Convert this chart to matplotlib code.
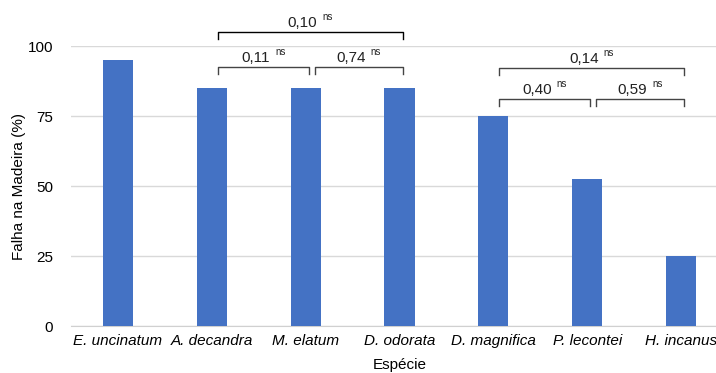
import matplotlib.pyplot as plt

plt.rcParams['font.family'] = ['Liberation Sans', 'DejaVu Sans']

# Data
especies = ["E. uncinatum", "A. decandra", "M. elatum", "D. odorata",
            "D. magnifica", "P. lecontei", "H. incanus"]
falha = [95, 85, 85, 85, 75, 52.5, 25]

# comparisons: (from, to, p-value label, bracket height)
pares = [(1, 3, "0,10", 105.0), (1, 2, "0,11", 92.5), (2, 3, "0,74", 92.5),
         (4, 6, "0,14", 92.2), (4, 5, "0,40", 81.0), (5, 6, "0,59", 81.0)]
cores_par = ["black", "#444444", "#444444", "#444444", "#444444", "#444444"]

W, H = 716, 373
fig = plt.figure(figsize=(W / 100, H / 100), dpi=100)
ax = fig.add_axes([71 / W, 47 / H, 657 / W, 280 / H])

x = range(len(especies))
ax.bar(x, falha, width=0.32, color="#4472C4", zorder=3)

ax.set_xlim(-0.5, len(especies) - 0.5)
ax.set_ylim(0, 100)
ax.set_yticks([0, 25, 50, 75, 100])
ax.grid(axis="y", color="#d9d9d9", linewidth=1, zorder=0)
ax.set_xticks(list(x))
ax.set_xticklabels(especies, style="italic", fontsize=11)
ax.tick_params(axis="x", length=0, pad=6)
ax.tick_params(axis="y", length=0, pad=13, labelsize=11)
for s in ["top", "right", "left"]:
    ax.spines[s].set_visible(False)
ax.spines["bottom"].set_color("#d0d0d0")

ax.set_ylabel("Falha na Madeira (%)", fontsize=11, labelpad=1)
ax.set_xlabel("Espécie", fontsize=11, labelpad=7)

# significance brackets
for k, (i, j, lab, yb) in enumerate(pares):
    left = i + 0.065
    right = j + 0.035
    if any(p[1] == i and p[3] == yb for p in pares):
        left = i + 0.095
    c = cores_par[k]
    ax.plot([left, left, right, right], [yb - 2.4, yb, yb, yb - 2.4],
            color=c, linewidth=1, clip_on=False, zorder=4)
    cx = (left + right) / 2
    ax.annotate(lab, (cx, yb), xytext=(5, 3.8), textcoords="offset points",
                ha="right", va="baseline", fontsize=11, color="#222222",
                annotation_clip=False)
    ax.annotate("ns", (cx, yb), xytext=(8.5, 8.5), textcoords="offset points",
                ha="left", va="baseline", fontsize=7, color="#222222",
                annotation_clip=False)

fig.savefig("out.png", dpi=100)
